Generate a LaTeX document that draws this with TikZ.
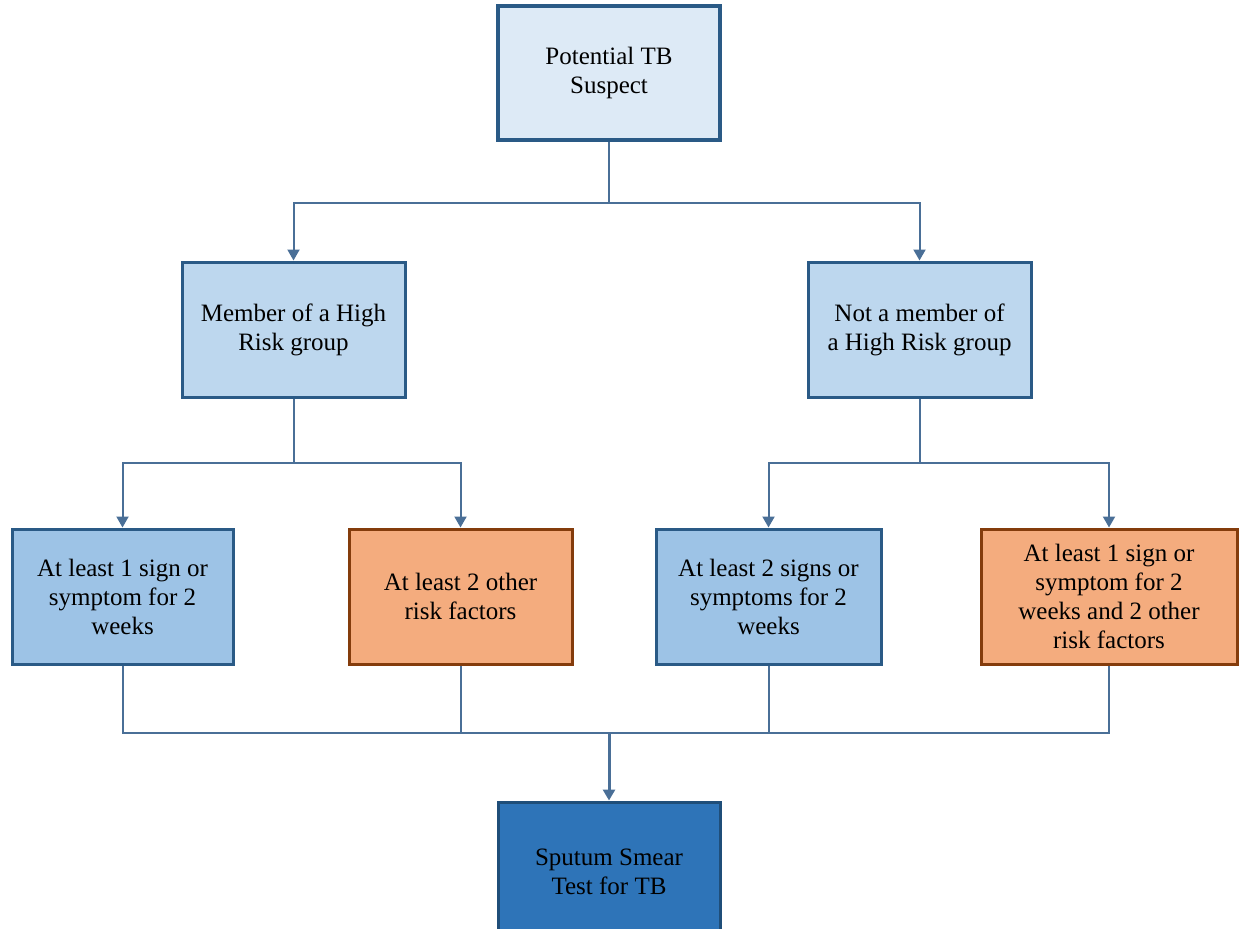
\documentclass[tikz,border=0pt]{standalone}
\usepackage{fontspec}
\setmainfont{Liberation Serif}
\usetikzlibrary{arrows.meta}
\definecolor{lineblue}{HTML}{4A6F97}
\definecolor{boxborder}{HTML}{2A5A86}
\definecolor{topfill}{HTML}{DDEAF6}
\definecolor{midfill}{HTML}{BDD7EE}
\definecolor{lowfill}{HTML}{9DC3E6}
\definecolor{orfill}{HTML}{F4AC7E}
\definecolor{orborder}{HTML}{843C0C}
\definecolor{endfill}{HTML}{2E74B8}
\definecolor{endborder}{HTML}{1F4E79}
\tikzset{
  box/.style={draw=boxborder, line width=1.5pt, align=center, inner sep=0pt,
    font=\fontsize{12.5}{14.5}\selectfont, text=black},
  conn/.style={draw=lineblue, line width=1pt},
  arr/.style={conn, -{Triangle[width=6pt,length=5.5pt]}},
}
\begin{document}
\begin{tikzpicture}[x=0.5pt,y=-0.5pt]
\useasboundingbox (0,0) rectangle (1240,928);
\node[box, fill=topfill, line width=2pt, minimum width=111pt, minimum height=67pt] (top) at (609,73) {Potential TB\\Suspect};
\node[box, fill=midfill, minimum width=111.5pt, minimum height=67.5pt] (hr) at (293.5,329.5) {Member of a High\\Risk group};
\node[box, fill=midfill, minimum width=111.5pt, minimum height=67.5pt] (nhr) at (919.5,329.5) {Not a member of\\a High Risk group};
\node[box, fill=lowfill, minimum width=110.5pt, minimum height=67.5pt] (a) at (122.5,596.5) {At least 1 sign or\\symptom for 2\\weeks};
\node[box, fill=orfill, draw=orborder, minimum width=111.5pt, minimum height=67.5pt] (b) at (460.5,596.5) {At least 2 other\\risk factors};
\node[box, fill=lowfill, minimum width=112.5pt, minimum height=67.5pt] (c) at (768.5,596.5) {At least 2 signs or\\symptoms for 2\\weeks};
\node[box, fill=orfill, draw=orborder, minimum width=128pt, minimum height=67.5pt] (d) at (1109,596.5) {At least 1 sign or\\symptom for 2\\weeks and 2 other\\risk factors};
\node[box, fill=endfill, draw=endborder, minimum width=111pt, minimum height=70pt] (end) at (609,872) {Sputum Smear\\Test for TB};

\coordinate (j1) at (609,203);
\coordinate (j2) at (293.5,463);
\coordinate (j3) at (919.5,463);
\coordinate (j4) at (609,733);

\draw[conn] (top.south) -- (j1);
\draw[arr] (j1) -| (hr.north);
\draw[arr] (j1) -| (nhr.north);
\draw[conn] (hr.south) -- (j2);
\draw[arr] (j2) -| (a.north);
\draw[arr] (j2) -| (b.north);
\draw[conn] (nhr.south) -- (j3);
\draw[arr] (j3) -| (c.north);
\draw[arr] (j3) -| (d.north);
\draw[conn] (a.south) |- (j4);
\draw[conn] (b.south) |- (j4);
\draw[conn] (c.south) |- (j4);
\draw[conn] (d.south) |- (j4);
\draw[arr, line width=1.5pt] (j4) -- (end.north);
\end{tikzpicture}
\end{document}
